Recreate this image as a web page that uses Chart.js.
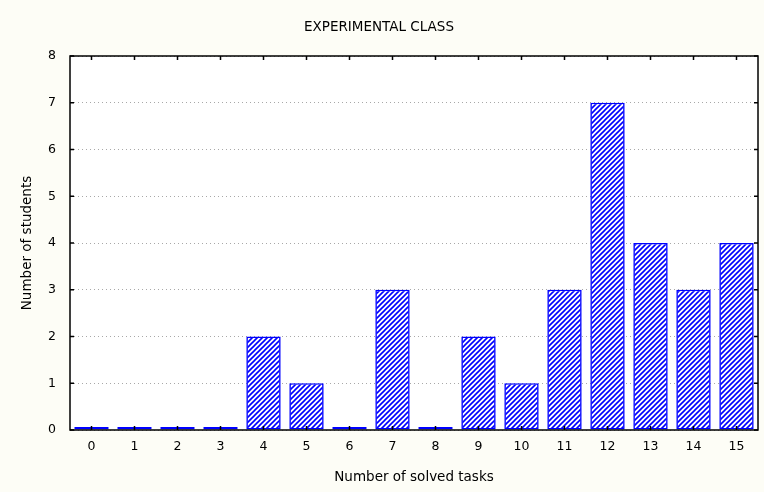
<!DOCTYPE html>
<html>
<head>
  <title>Experimental class</title>
  <script src="https://cdn.jsdelivr.net/npm/chart.js"></script>
  <style>
    html, body {
      margin: 0;
      padding: 0;
      background-color: #fdfdf6;
    }
    #wrap {
      width: 764px;
      height: 492px;
    }
  </style>
</head>
<body>
  <div id="wrap"><canvas id="tasksChart" width="764" height="492"></canvas></div>

  <script>
    const categories = ['0', '1', '2', '3', '4', '5', '6', '7', '8', '9', '10', '11', '12', '13', '14', '15'];
    const students = [0, 0, 0, 0, 2, 1, 0, 3, 0, 2, 1, 3, 7, 4, 3, 4];
    const yMin = 0;
    const yMax = 8;

    // diagonal hatch fill like the old statistics package
    function makeHatch() {
      const c = document.createElement('canvas');
      c.width = 5;
      c.height = 5;
      const g = c.getContext('2d');
      g.fillStyle = '#ffffff';
      g.fillRect(0, 0, 5, 5);
      g.strokeStyle = '#0000ff';
      g.lineWidth = 1.6;
      g.beginPath();
      g.moveTo(-1, 6); g.lineTo(6, -1);
      g.moveTo(-1, 1); g.lineTo(1, -1);
      g.moveTo(4, 6); g.lineTo(6, 4);
      g.stroke();
      return g.createPattern(c, 'repeat');
    }

    // plot frame and inward tick marks
    const framePlugin = {
      id: 'frame',
      beforeDraw(chart) {
        const a = chart.chartArea;
        const ctx = chart.ctx;
        ctx.save();
        ctx.fillStyle = '#ffffff';
        ctx.fillRect(a.left, a.top, a.right - a.left, a.bottom - a.top);
        ctx.restore();
      },
      afterDraw(chart) {
        const a = chart.chartArea;
        const ctx = chart.ctx;
        const x = chart.scales.x;
        const y = chart.scales.y;
        ctx.save();
        ctx.strokeStyle = '#000000';
        ctx.lineWidth = 1.5;
        ctx.strokeRect(a.left, a.top, a.right - a.left, a.bottom - a.top);
        ctx.beginPath();
        x.ticks.forEach((t, i) => {
          const px = x.getPixelForTick(i);
          ctx.moveTo(px, a.bottom); ctx.lineTo(px, a.bottom - 4);
          ctx.moveTo(px, a.top); ctx.lineTo(px, a.top + 4);
        });
        y.ticks.forEach((t, i) => {
          const py = y.getPixelForTick(i);
          ctx.moveTo(a.left, py); ctx.lineTo(a.left + 4, py);
          ctx.moveTo(a.right, py); ctx.lineTo(a.right - 4, py);
        });
        ctx.stroke();
        ctx.restore();
      }
    };

    const ctx = document.getElementById('tasksChart').getContext('2d');

    const chart = new Chart(ctx, {
      type: 'bar',
      data: {
        labels: categories,
        datasets: [{
          label: 'Number of students',
          data: students,
          backgroundColor: makeHatch(),
          borderColor: '#0000ff',
          borderWidth: 1.6,
          borderSkipped: false,
          minBarLength: 3,
          barPercentage: 0.8,
          categoryPercentage: 1
        }]
      },
      options: {
        responsive: false,
        animation: false,
        layout: {
          padding: { left: 0, right: 6, top: 0, bottom: 0 }
        },
        plugins: {
          legend: { display: false },
          tooltip: { enabled: false },
          title: {
            display: true,
            text: 'EXPERIMENTAL CLASS',
            color: '#000000',
            font: { family: 'DejaVu Sans', size: 13.5, weight: 'normal' },
            padding: { top: 19, bottom: 20.8 }
          }
        },
        scales: {
          x: {
            grid: { display: false, drawTicks: false },
            border: { display: false },
            ticks: {
              color: '#000000',
              padding: 9,
              maxRotation: 0,
              font: { family: 'DejaVu Sans', size: 12.5 }
            },
            title: {
              display: true,
              text: 'Number of solved tasks',
              color: '#000000',
              font: { family: 'DejaVu Sans', size: 13.5 },
              padding: { top: 0, bottom: 6 }
            },
            afterFit: function(scale) {
              scale.height = 62;
            }
          },
          y: {
            min: yMin,
            max: yMax,
            grid: {
              color: '#a8a8a8',
              lineWidth: 1,
              drawTicks: false
            },
            border: { display: false, dash: [1, 3] },
            ticks: {
              stepSize: 1,
              color: '#000000',
              padding: 14,
              font: { family: 'DejaVu Sans', size: 12.5 }
            },
            title: {
              display: true,
              text: 'Number of students',
              color: '#000000',
              font: { family: 'DejaVu Sans', size: 13.5 },
              padding: { top: 19, bottom: 0 }
            },
            afterFit: function(scale) {
              scale.width = 70;
            }
          }
        }
      },
      plugins: [framePlugin]
    });
  </script>
</body>
</html>
